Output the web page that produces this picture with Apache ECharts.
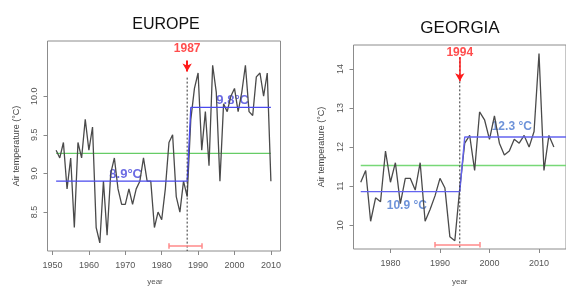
<!DOCTYPE html>
<html>
<head>
<meta charset="utf-8">
<script src="https://cdn.jsdelivr.net/npm/echarts@6/dist/echarts.min.js"></script>
<style>
html,body{margin:0;padding:0;background:#fff;}
#c{width:566px;height:291px;}
</style>
</head>
<body>
<div id="c"></div>
<script>
// ---------- EUROPE data ----------
const euYears = [1951,1952,1953,1954,1955,1956,1957,1958,1959,1960,
  1961,1962,1963,1964,1965,1966,1967,1968,1969,1970,
  1971,1972,1973,1974,1975,1976,1977,1978,1979,1980,
  1981,1982,1983,1984,1985,1986,1987,1988,1989,1990,
  1991,1992,1993,1994,1995,1996,1997,1998,1999,2000,
  2001,2002,2003,2004,2005,2006,2007,2008,2009,2010];
const euTemp = [9.3,9.2,9.4,8.8,9.2,8.3,9.4,9.2,9.7,9.3,
  9.6,8.3,8.1,8.9,8.2,9.0,9.2,8.8,8.6,8.6,
  8.8,8.6,8.8,8.9,9.2,8.9,8.9,8.3,8.5,8.4,
  8.8,9.4,9.5,8.7,8.5,8.9,8.7,9.7,10.1,10.3,
  9.3,9.8,9.1,10.4,10.05,8.9,9.9,9.8,10.0,10.1,
  9.8,10.05,10.4,9.8,9.75,10.25,10.3,10.0,10.3,8.9];
const euMean = 9.26;
const euBefore = 8.9;
const euAfter = 9.855;
const euBreak = 1987;
const euCI = [1982, 1991.1];
const euXTicks = [1950,1960,1970,1980,1990,2000,2010];
const euYTicks = [8.5,9.0,9.5,10.0];
const euLabels = ['8.9°C','9.8°C','1987'];

// ---------- GEORGIA data ----------
const geYears = [1974,1975,1976,1977,1978,1979,1980,1981,1982,1983,
  1984,1985,1986,1987,1988,1989,1990,1991,1992,1993,
  1994,1995,1996,1997,1998,1999,2000,2001,2002,2003,
  2004,2005,2006,2007,2008,2009,2010,2011,2012,2013];
const geTemp = [11.1,11.4,10.1,10.7,10.6,11.9,11.1,11.6,10.55,11.2,
  11.2,10.9,11.6,10.1,10.4,10.75,11.2,10.95,9.7,9.6,
  10.95,12.1,12.3,11.4,12.9,12.7,12.2,12.8,12.1,11.8,
  11.9,12.2,12.1,12.3,12.0,12.4,14.4,11.4,12.3,12.0];
const geMean = 11.53;
const geBefore = 10.86;
const geAfter = 12.26;
const geBreak = 1994;
const geCI = [1989, 1998];
const geXTicks = [1980,1990,2000,2010];
const geYTicks = [10,11,12,13,14];
const geLabels = ['10.9 °C','12.3 °C','1994'];

const FONT = 'Liberation Sans, Arial, sans-serif';

function xAxisDef(gi, min, max, ticks, nameGap, namePad) {
  return {
    type:'value', gridIndex:gi, min:min, max:max,
    axisLine:{show:false},
    axisTick:{show:true, inside:false, length:4, customValues:ticks, lineStyle:{color:'#888', width:1}},
    axisLabel:{show:true, customValues:ticks, color:'#555', fontSize:9, fontFamily:FONT, margin:10,
      formatter:function(v){return String(Math.round(v));}},
    splitLine:{show:false},
    name:'year', nameLocation:'middle', nameGap:nameGap,
    nameTextStyle:{color:'#555', fontSize:8, fontFamily:FONT, padding:namePad}
  };
}
function yAxisDef(gi, min, max, ticks, dec, nameGap) {
  return {
    type:'value', gridIndex:gi, min:min, max:max,
    axisLine:{show:false},
    axisTick:{show:true, inside:false, length:4, customValues:ticks, lineStyle:{color:'#888', width:1}},
    axisLabel:{show:true, customValues:ticks, rotate:90, color:'#555', fontSize:9, fontFamily:FONT, margin:8,
      formatter:function(v){return Number(v).toFixed(dec);}},
    splitLine:{show:false},
    name:'Air temperature (°C)', nameLocation:'middle', nameGap:nameGap, nameRotate:90,
    nameTextStyle:{color:'#444', fontSize:9, fontFamily:FONT}
  };
}
function lineS(gi, data, color, width, extra) {
  return Object.assign({
    type:'line', xAxisIndex:gi, yAxisIndex:gi, data:data, symbol:'none', silent:true,
    animation:false, lineStyle:{color:color, width:width}
  }, extra||{});
}
function textS(gi, pt, text, color, size, family) {
  return {
    type:'scatter', xAxisIndex:gi, yAxisIndex:gi, data:[pt], symbolSize:1, silent:true, animation:false,
    itemStyle:{color:'rgba(0,0,0,0)'},
    label:{show:true, position:'inside', formatter:text, color:color, fontSize:size, fontWeight:'bold', fontFamily:family}
  };
}
function annot(gi, brk, ci, ciY, capH, arrowTop, arrowBot, arrowW) {
  return {
    type:'line', xAxisIndex:gi, yAxisIndex:gi, data:[], silent:true, animation:false,
    markLine:{
      silent:true, animation:false, label:{show:false}, symbol:['none','none'],
      data:[
        [{coord:[ci[0],ciY], lineStyle:{color:'#ff8a8a', width:1.5, type:'solid'}},{coord:[ci[1],ciY]}],
        [{coord:[ci[0],ciY-capH], lineStyle:{color:'#ff8a8a', width:1.5, type:'solid'}},{coord:[ci[0],ciY+capH]}],
        [{coord:[ci[1],ciY-capH], lineStyle:{color:'#ff8a8a', width:1.5, type:'solid'}},{coord:[ci[1],ciY+capH]}],
        [{coord:[brk,arrowTop], symbol:'none', lineStyle:{color:'#ff1a1a', width:arrowW, type:'solid'}},
         {coord:[brk,arrowBot], symbol:'arrow', symbolSize:[7,8]}]
      ]
    }
  };
}

const euData = euYears.map((y,i)=>[y, euTemp[i]]);
const geData = geYears.map((y,i)=>[y, geTemp[i]]);

const option = {
  backgroundColor:'#fff',
  animation:false,
  graphic:[
    {type:'text', x:166, y:25, style:{text:'EUROPE', fontSize:16, fontFamily:FONT, fill:'#111', textAlign:'center', textVerticalAlign:'middle'}},
    {type:'text', x:460, y:28, style:{text:'GEORGIA', fontSize:17, fontFamily:FONT, fill:'#111', textAlign:'center', textVerticalAlign:'middle'}}
  ],
  grid:[
    {left:47.5, top:41, width:233, height:212, show:true, borderColor:'#8c8c8c', borderWidth:1, backgroundColor:'transparent', containLabel:false},
    {left:353.5, top:45, width:230, height:207, show:true, borderColor:'#8c8c8c', borderWidth:1, backgroundColor:'transparent', containLabel:false}
  ],
  xAxis:[
    xAxisDef(0, 1948.63, 2012.64, euXTicks, 27, [0,18,0,0]),
    xAxisDef(1, 1972.54, 2015.45, geXTicks, 29, [0,0,0,0])
  ],
  yAxis:[
    yAxisDef(0, 7.996, 10.714, euYTicks, 1, 26),
    yAxisDef(1, 9.389, 14.616, geYTicks, 0, 27)
  ],
  series:[
    // Europe
    lineS(0, [[euYears[0],euMean],[euYears[euYears.length-1],euMean]], '#66cc66', 1.2),
    lineS(0, euData, '#4a4a4a', 1.3),
    lineS(0, [[euYears[0],euBefore],[euBreak,euBefore],[euBreak+1,euAfter],[euYears[euYears.length-1],euAfter]], '#4a4aee', 1.3),
    lineS(0, [[euBreak,10.24],[euBreak,7.996]], '#333', 1, {lineStyle:{color:'#333', width:1, type:[2,2]}}),
    annot(0, euBreak, euCI, 8.06, 0.035, 10.46, 10.32, 2),
    textS(0, [1970.1, 8.99], euLabels[0], '#4646dc', 13, FONT),
    textS(0, [1999.5, 9.94], euLabels[1], '#4646dc', 13, FONT),
    textS(0, [euBreak, 10.62], euLabels[2], '#ff2020', 12, FONT),
    // Georgia
    lineS(1, [[geYears[0],geMean],[2016,geMean]], '#77d877', 1.5),
    lineS(1, geData, '#4a4a4a', 1.3),
    lineS(1, [[geYears[0],geBefore],[geBreak,geBefore],[geBreak+1,geAfter],[2016,geAfter]], '#6464f0', 1.4),
    lineS(1, [[geBreak,14.3],[geBreak,9.389]], '#333', 1, {lineStyle:{color:'#333', width:1, type:[2,2]}}),
    annot(1, geBreak, geCI, 9.50, 0.07, 14.31, 13.69, 1.5),
    textS(1, [1983.3, 10.5], geLabels[0], '#4a78d0', 12, FONT),
    textS(1, [2004.5, 12.52], geLabels[1], '#4a78d0', 12, FONT),
    textS(1, [geBreak, 14.41], geLabels[2], '#ff2020', 12, FONT)
  ]
};
const chart = echarts.init(document.getElementById('c'), null, {renderer:'canvas'});
chart.setOption(option);
</script>
</body>
</html>
